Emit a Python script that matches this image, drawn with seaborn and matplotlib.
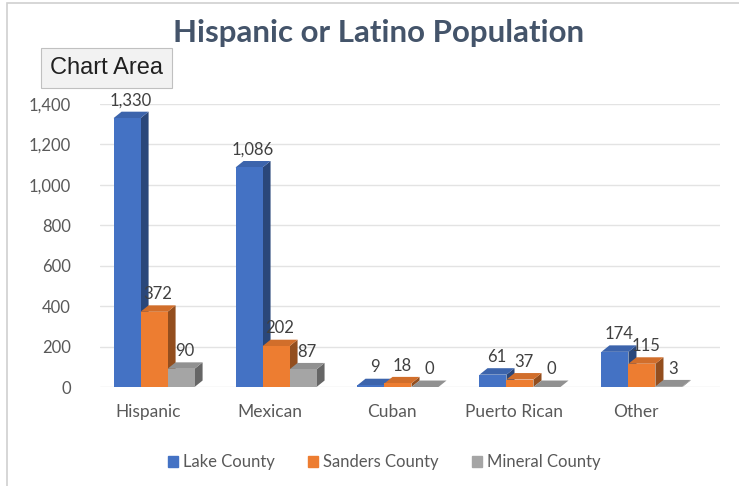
import matplotlib
matplotlib.use("Agg")
import matplotlib.pyplot as plt
import seaborn as sns
import pandas as pd
import numpy as np
from matplotlib.patches import Polygon, Rectangle
from matplotlib.ticker import FuncFormatter
import matplotlib.colors as mcolors

categories = ["Hispanic", "Mexican", "Cuban", "Puerto Rican", "Other"]
lake = [1330, 1086, 9, 61, 174]
sanders = [372, 202, 18, 37, 115]
mineral = [90, 87, 0, 0, 3]
series_names = ["Lake County", "Sanders County", "Mineral County"]
colors = ["#4472C4", "#ED7D31", "#A5A5A5"]
yticks = [0, 200, 400, 600, 800, 1000, 1200, 1400]

df = pd.DataFrame({
    "Category": categories * 3,
    "Series": [series_names[0]] * 5 + [series_names[1]] * 5 + [series_names[2]] * 5,
    "Value": lake + sanders + mineral,
})

sns.set_theme(style="white")
plt.rcParams["font.family"] = ["Lato", "DejaVu Sans"]

fig = plt.figure(figsize=(7.39, 4.86), dpi=100)
ax = fig.add_axes([100 / 739, 1 - 387 / 486, 620 / 739, 283 / 486])

sns.barplot(data=df, x="Category", y="Value", hue="Series", palette=colors,
            width=0.664, ax=ax, saturation=1, legend=False, zorder=3,
            linewidth=0, edgecolor="none")

ax.set_ylim(0, 1400)
ax.set_xlim(-0.443, 4.64)
ax.set_yticks(yticks)
ax.yaxis.set_major_formatter(FuncFormatter(lambda v, p: f"{int(v):,}"))
ax.set_xticks(np.arange(len(categories)) - 0.05)
ax.set_xticklabels(categories)
ax.grid(axis="y", color="#E3E3E3", linewidth=1, zorder=0)
for s in ax.spines.values():
    s.set_visible(False)
ax.set_xlabel("")
ax.set_ylabel("")
ax.tick_params(axis="y", colors="#595959", labelsize=12, pad=21, length=0)
ax.tick_params(axis="x", colors="#595959", labelsize=12.5, pad=12, length=0)

# 3D extrusion of each bar, layered so each front face covers the previous side
dx = 0.066
dy = 32
rgb_list = [np.array(mcolors.to_rgb(c)) for c in colors]
for patch in list(ax.patches):
    x0 = patch.get_x()
    w = patch.get_width()
    h = patch.get_height()
    fc = np.array(mcolors.to_rgb(patch.get_facecolor()))
    k = int(np.argmin([np.abs(fc - c).sum() for c in rgb_list]))
    patch.set_zorder(3.5 + k)
    side = tuple(fc * 0.62)
    top = tuple(np.clip(fc * 0.88, 0, 1))
    ax.add_patch(Polygon([[x0 + w, 0], [x0 + w + dx, dy], [x0 + w + dx, h + dy], [x0 + w, h]],
                         closed=True, facecolor=side, edgecolor="none", zorder=3 + k))
    ax.add_patch(Polygon([[x0, h], [x0 + dx, h + dy], [x0 + w + dx, h + dy], [x0 + w, h]],
                         closed=True, facecolor=top, edgecolor="none", zorder=3 + k))
    ax.text(x0 + w / 2 + dx / 2, h + 88, f"{int(h):,}", ha="center", va="center",
            fontsize=12, color="#404040", zorder=10)

# title
fig.text(0.512, 0.932, "Hispanic or Latino Population", ha="center", va="center",
         fontsize=22.5, fontweight="bold", color="#44546A")

# legend
handles = [Rectangle((0, 0), 1, 1, color=c) for c in colors]
fig.legend(handles, series_names, loc="center", bbox_to_anchor=(0.52, 0.049), ncol=3,
           frameon=False, fontsize=12, labelcolor="#595959", handlelength=0.6,
           handleheight=0.6, handletextpad=0.3, columnspacing=2.0)

# chart border
fig.add_artist(Rectangle((0.009, -0.01), 1.0, 1.004, transform=fig.transFigure,
                         fill=False, edgecolor="#D0D0D0", linewidth=1.2))

# "Chart Area" tooltip
fig.text(0.068, 0.860, "Chart Area", ha="left", va="center", fontsize=17,
         color="#202020", family=["Liberation Sans", "DejaVu Sans"],
         bbox=dict(boxstyle="square,pad=0.38", facecolor="#F2F2F2", edgecolor="#C0C0C0", linewidth=0.8))

fig.savefig("out.png", dpi=100)
